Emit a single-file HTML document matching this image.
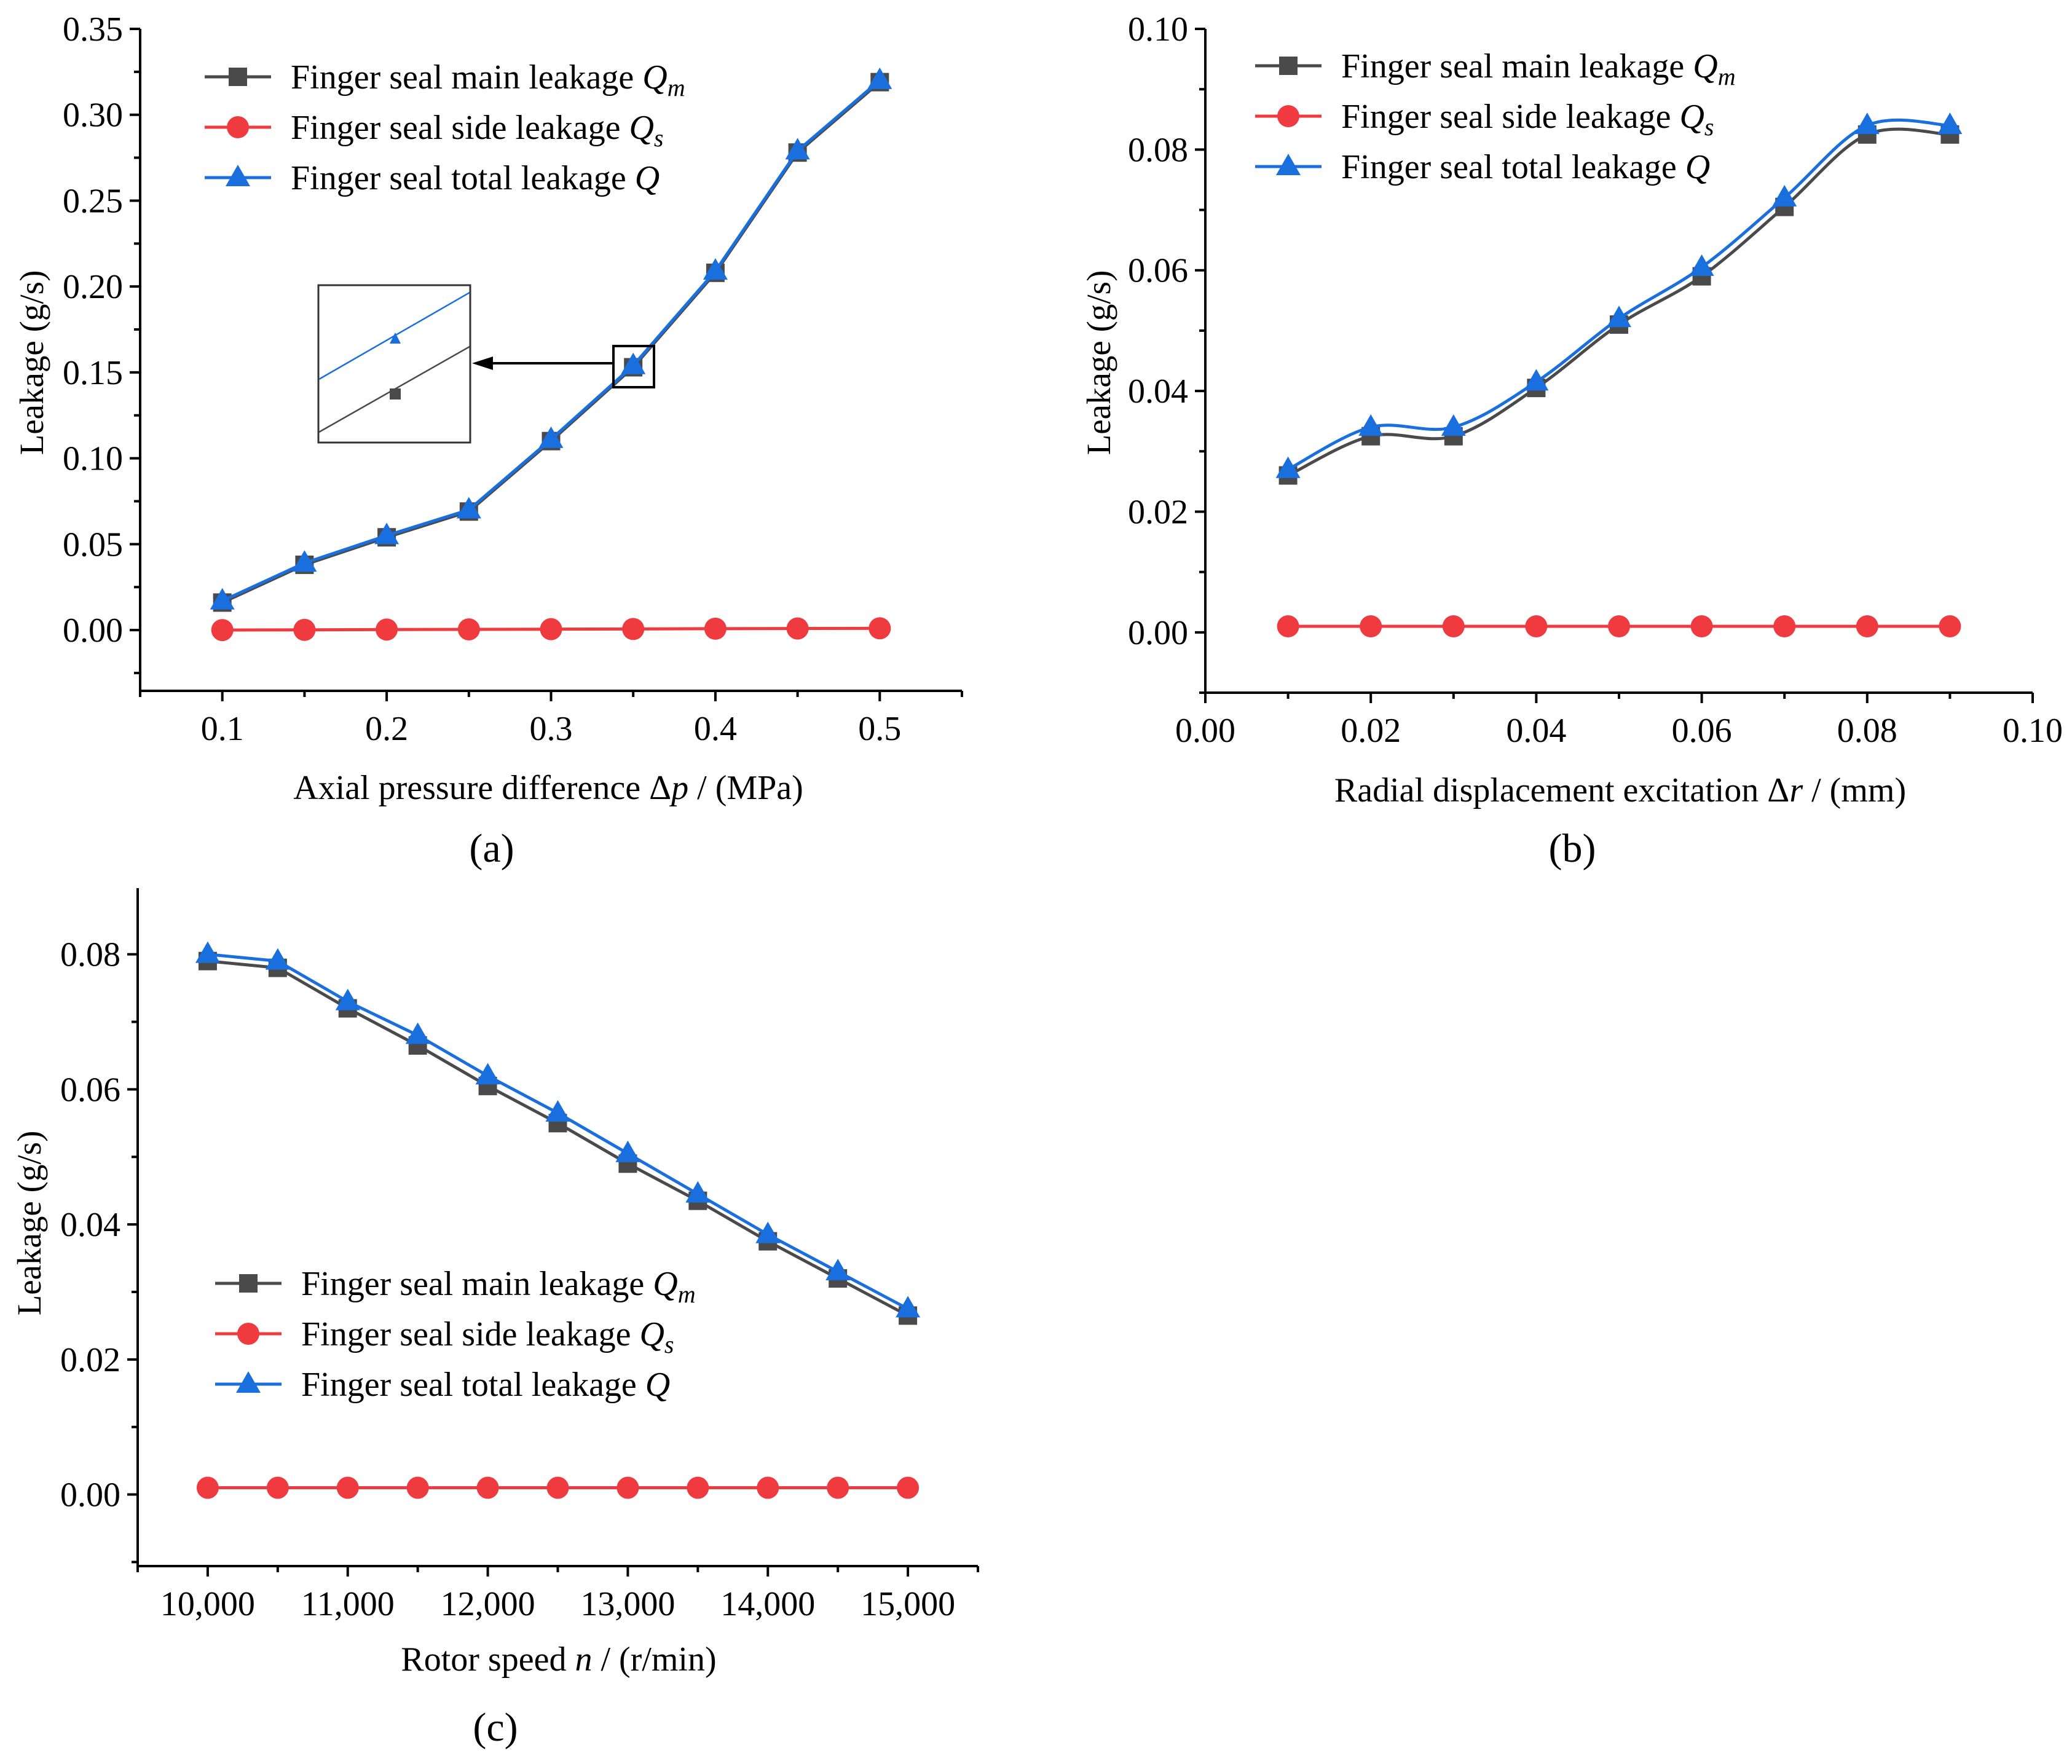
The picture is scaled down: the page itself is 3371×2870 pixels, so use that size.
<!DOCTYPE html>
<html><head><meta charset="utf-8"><style>
html,body{margin:0;padding:0;background:#fff;}
svg{display:block;}
svg text{font-family:"Liberation Serif","Times New Roman",serif;}
</style></head><body>
<svg id="fig" width="3371" height="2870" viewBox="0 0 3371 2870" xmlns="http://www.w3.org/2000/svg"></svg>
<script>
const aX=[0.1,0.15,0.2,0.25,0.3,0.35,0.4,0.45,0.5];
const aQm=[0.016,0.038,0.054,0.069,0.110,0.153,0.208,0.278,0.319];
const aQ=[0.017,0.039,0.055,0.070,0.111,0.154,0.209,0.279,0.320];
const aQs=[0.0000,0.0001,0.0003,0.0004,0.0005,0.0006,0.0008,0.0009,0.0010];
const aXTicks=["0.1","0.2","0.3","0.4","0.5"];
const aYTicks=["0.00","0.05","0.10","0.15","0.20","0.25","0.30","0.35"];
const bX=[0.01,0.02,0.03,0.04,0.05,0.06,0.07,0.08,0.09];
const bQm=[0.026,0.0325,0.0325,0.0405,0.051,0.059,0.0705,0.0825,0.0825];
const bQ=[0.027,0.034,0.034,0.0415,0.052,0.0605,0.072,0.084,0.084];
const bQs=[0.001,0.001,0.001,0.001,0.001,0.001,0.001,0.001,0.001];
const bXTicks=["0.00","0.02","0.04","0.06","0.08","0.10"];
const bYTicks=["0.00","0.02","0.04","0.06","0.08","0.10"];
const cX=[10000,10500,11000,11500,12000,12500,13000,13500,14000,14500,15000];
const cQm=[0.079,0.078,0.072,0.0665,0.0605,0.055,0.049,0.0435,0.0375,0.032,0.0265];
const cQ=[0.080,0.079,0.073,0.068,0.062,0.0565,0.0505,0.0445,0.0385,0.033,0.0275];
const cQs=[0.001,0.001,0.001,0.001,0.001,0.001,0.001,0.001,0.001,0.001,0.001];
const cXTicks=["10,000","11,000","12,000","13,000","14,000","15,000"];
const cYTicks=["0.00","0.02","0.04","0.06","0.08"];

const NS="http://www.w3.org/2000/svg";
const svg=document.getElementById('fig');
const GRAY="#4a4a4a",RED="#ef3b3f",BLUE="#1a6fdf";
function el(t,a,p){const e=document.createElementNS(NS,t);for(const k in a)e.setAttribute(k,a[k]);(p||svg).appendChild(e);return e;}
function txt(s,x,y,size,anchor,p){const e=el('text',{x:x,y:y,'font-size':size,'text-anchor':anchor||'middle'},p);e.textContent=s;return e;}
function smoothPath(pts){let d=`M${pts[0][0]},${pts[0][1]}`;for(let i=0;i<pts.length-1;i++){const p0=pts[i-1]||pts[i],p1=pts[i],p2=pts[i+1],p3=pts[i+2]||p2;const c1=[p1[0]+(p2[0]-p0[0])/6,p1[1]+(p2[1]-p0[1])/6],c2=[p2[0]-(p3[0]-p1[0])/6,p2[1]-(p3[1]-p1[1])/6];d+=` C${c1[0]},${c1[1]} ${c2[0]},${c2[1]} ${p2[0]},${p2[1]}`;}return d;}
function marker(kind,x,y,g){
 if(kind==='sq'){const m=el('rect',{x:x-15,y:y-15,width:30,height:30,fill:GRAY},g);}
 else if(kind==='ci'){const m=el('circle',{cx:x,cy:y,r:18,fill:RED},g);}
 else {const m=el('polygon',{points:`${x},${y-21} ${x-20},${y+14} ${x+20},${y+14}`,fill:BLUE},g);}
}
function chart(o){
 const g=el('g',{});
 
 
 const sx=v=>o.L+(v-o.xmin)/(o.xmax-o.xmin)*(o.R-o.L);
 const sy=v=>o.B+(v-o.ymin)/(o.ymax-o.ymin)*(o.T-o.B);
 const ax=el('path',{d:`M${o.L},${o.T} L${o.L},${o.B} L${o.R},${o.B}`,fill:'none',stroke:'#000','stroke-width':4},g);
 
 const y0=Math.ceil(o.ymin/o.yminor-1e-9)*o.yminor;
 for(let v=y0;v<=o.ymax+1e-9;v+=o.yminor){const y=sy(v);const major=Math.abs(v/o.ystep-Math.round(v/o.ystep))<1e-6;el('line',{x1:o.L-(major?17:10),y1:y,x2:o.L,y2:y,stroke:'#000','stroke-width':4},g);}
 for(let v=o.xmin;v<=o.xmax+1e-9;v+=o.xminor){const x=sx(v);const major=Math.abs((v-o.xt0)/o.xstep-Math.round((v-o.xt0)/o.xstep))<1e-6;el('line',{x1:x,y1:o.B,x2:x,y2:o.B+(major?17:10),stroke:'#000','stroke-width':4},g);}
 o.yt.forEach((s,i)=>{const t=txt(s,o.L-28,sy(parseFloat(s))+19,56,'end',g);});
 o.xt.forEach((s,i)=>{const v=o.xt0+i*o.xstep;const t=txt(s,sx(v),o.B+80,56,'middle',g);});
 const yt=txt('Leakage (g/s)',0,0,55,'middle',g);yt.setAttribute('transform',`translate(${o.yTitleX},${o.yTitleY}) rotate(-90)`);
 
 const xt=el('text',{x:o.xTitleX,y:o.xTitleY,'font-size':56,'text-anchor':'middle'},g);xt.innerHTML=o.xTitle;
 
 const pl=txt(o.panel,o.panelX,o.panelY,66,'middle',g);
 const series=[[o.Qm,GRAY,'sq','series-main-leakage'],[o.Qs,RED,'ci','series-side-leakage'],[o.Q,BLUE,'tr','series-total-leakage']];
 series.forEach(([d,c,k,n])=>{
  const sg=el('g',{},g);
  const pts=o.x.map((v,i)=>[sx(v),sy(d[i])]);
  const dd=o.smooth?smoothPath(pts):'M'+pts.map(p=>p.join(',')).join(' L');
  el('path',{d:dd,fill:'none',stroke:c,'stroke-width':5},sg);
  pts.forEach(p=>marker(k,p[0],p[1],sg));
 });
 const lg=el('g',{},g);
 const labels=['Finger seal main leakage <tspan font-style="italic">Q</tspan><tspan font-style="italic" font-size="40" dy="12">m</tspan>','Finger seal side leakage <tspan font-style="italic">Q</tspan><tspan font-style="italic" font-size="40" dy="12">s</tspan>','Finger seal total leakage <tspan font-style="italic">Q</tspan>'];
 series.forEach(([d,c,k],i)=>{
  const y=o.legY+i*82;
  const eg=el('g',{},lg);
  el('line',{x1:o.legX,y1:y,x2:o.legX+108,y2:y,stroke:c,'stroke-width':5},eg);
  marker(k,o.legX+54,y,eg);
  const t=el('text',{x:o.legX+140,y:y+19,'font-size':56},eg);t.innerHTML=labels[i];
 });
 return {g,sx,sy};
}
chart({name:'chart-a',L:228,R:1565,T:47,B:1124,xmin:0.05,xmax:0.55,ymin:-0.0354,ymax:0.35,ystep:0.05,yminor:0.025,xt0:0.1,xstep:0.1,xminor:0.05,
 x:aX,Qm:aQm,Qs:aQs,Q:aQ,yt:aYTicks,xt:aXTicks,yTitleX:70,yTitleY:590,xTitleX:892,xTitleY:1300,
 xTitle:'Axial pressure difference Δ<tspan font-style="italic">p</tspan> / (MPa)',panel:'(a)',panelX:800,panelY:1402,legX:333,legY:125});
(function(){
 const g=el('g',{});
 el('rect',{x:518,y:464,width:247,height:256,fill:'#fff',stroke:'#333','stroke-width':3},g);
 el('line',{x1:519,y1:617,x2:764,y2:476,stroke:BLUE,'stroke-width':2.5},g);
 el('line',{x1:519,y1:703,x2:764,y2:564,stroke:GRAY,'stroke-width':2.5},g);
 el('polygon',{points:'643,541 634,559 652,559',fill:BLUE},g);
 el('rect',{x:634,y:632,width:18,height:18,fill:GRAY},g);
 el('rect',{x:998,y:563,width:66,height:67,fill:'none',stroke:'#000','stroke-width':4},g);
 el('line',{x1:998,y1:591,x2:800,y2:591,stroke:'#000','stroke-width':4},g);
 el('polygon',{points:'768,591 802,580 802,602',fill:'#000'},g);
})();
chart({name:'chart-b',L:1961,R:3307,T:47,B:1127,xmin:0,xmax:0.10,ymin:-0.01,ymax:0.10,ystep:0.02,yminor:0.01,xt0:0,xstep:0.02,xminor:0.01,
 x:bX,Qm:bQm,Qs:bQs,Q:bQ,yt:bYTicks,xt:bXTicks,yTitleX:1806,yTitleY:590,xTitleX:2636,xTitleY:1304,smooth:true,
 xTitle:'Radial displacement excitation Δ<tspan font-style="italic">r</tspan> / (mm)',panel:'(b)',panelX:2558,panelY:1402,legX:2042,legY:107});
chart({name:'chart-c',L:224,R:1591,T:1445,B:2548,xmin:9500,xmax:15500,ymin:-0.0106,ymax:0.0898,ystep:0.02,yminor:0.01,xt0:10000,xstep:1000,xminor:500,
 x:cX,Qm:cQm,Qs:cQs,Q:cQ,yt:cYTicks,xt:cXTicks,yTitleX:66,yTitleY:1990,xTitleX:909,xTitleY:2718,
 xTitle:'Rotor speed <tspan font-style="italic">n</tspan> / (r/min)',panel:'(c)',panelX:806,panelY:2832,legX:350,legY:2088});
</script>
</body></html>
